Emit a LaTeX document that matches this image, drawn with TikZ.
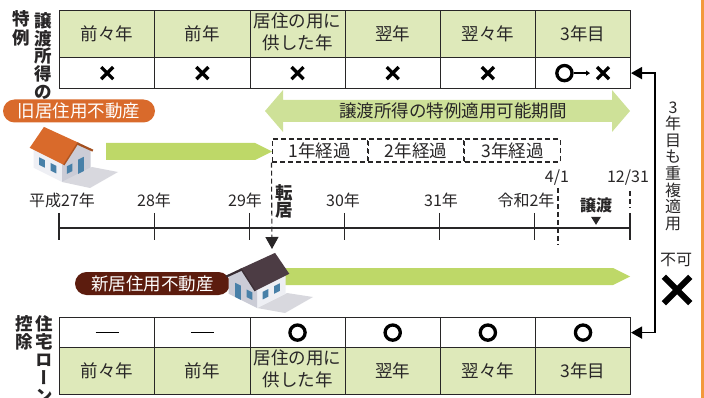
\documentclass[tikz,border=0pt]{standalone}
\usepackage{fontspec}
\setmainfont{Noto Sans CJK JP}
\newfontfamily\tate[RawFeature=+vert]{Noto Sans CJK JP}
\usetikzlibrary{matrix,positioning,arrows.meta}

\definecolor{moji}{RGB}{40,38,39}
\definecolor{hdr}{RGB}{222,233,186}
\definecolor{midori}{RGB}{190,216,104}
\definecolor{usumidori}{RGB}{206,225,152}
\definecolor{daidai}{RGB}{217,106,43}
\definecolor{kogecha}{RGB}{92,28,14}
\definecolor{yane}{RGB}{76,60,68}
\definecolor{obi}{RGB}{243,153,61}
\definecolor{kabe}{RGB}{238,239,244}
\definecolor{kabekage}{RGB}{203,204,214}
\definecolor{mado}{RGB}{72,128,168}
\definecolor{kage}{RGB}{216,216,222}

\newcommand{\hon}{\fontsize{17.5}{21.5}\selectfont}
\newcommand{\sho}{\fontsize{16}{16.6}\selectfont}
\newcommand{\kyojunen}{\begin{tabular}{@{}c@{}}居住の用に\\供した年\end{tabular}}

\tikzset{
  cell/.style={draw=moji, line width=0.8pt, minimum width=95.17pt, anchor=center},
  hyo/.style={matrix of nodes, nodes in empty cells, anchor=north west,
    column sep=-0.8pt, row sep=-0.8pt, nodes={cell}},
  mk/.style={line width=3.3pt, draw=black},
  batsu/.pic={\draw (-6,-6) -- (6,6) (-6,6) -- (6,-6);},
  maru/.pic={\draw (0,0) circle[radius=7.6];},
  bou/.pic={\draw (-11.5,0) -- (11.5,0);},
  pill/.style={rounded corners=11.5pt, minimum height=23pt, text=white},
  keika/.style={draw=moji, line width=1.1pt, dash pattern=on 5pt off 3pt,
    minimum width=95.3pt, minimum height=23pt},
  hasen/.style={draw=moji, line width=1.1pt, dash pattern=on 5pt off 3pt},
  jiku/.style={draw=moji, line width=1.1pt},
  tatemoji/.style={align=center, font=\bfseries\fontsize{17.5}{18}\selectfont},
  % small isometric house, roof colour as argument
  ie/.pic={
    \fill[kabe] (0,0) -- (-30,-15) -- (-30,-35) -- (0,-20) -- cycle;
    \fill[kabekage] (0,0) -- (30,-15) -- (30,-35) -- (15,-40.5) -- (0,-20) -- cycle;
    \fill[mado] (-6,-9) -- (-12,-12) -- (-12,-20) -- (-6,-17) -- cycle;
    \fill[mado] (-18,-15) -- (-24,-18) -- (-24,-26) -- (-18,-23) -- cycle;
    \fill[mado] (5,-8.5) -- (11,-11.5) -- (11,-19.5) -- (5,-16.5) -- cycle;
    \fill[mado] (17,-8.5) -- (23,-11.5) -- (23,-26.5) -- (17,-23.5) -- cycle;
    \fill[#1] (2,-18) -- (-34,-36) -- (-19,-58) -- (17,-41.5) -- cycle;
    \fill[#1!75!black] (17,-41.5) -- (33,-34) -- (32,-32) -- (15.5,-39.5) -- cycle;
    \draw[#1!80!black, line width=1.4pt] (17,-41.5) -- (2,-18);
  }
}

\begin{document}
\begin{tikzpicture}[x=1pt, y=-1pt,
  every node/.style={text=moji, inner sep=0pt, font=\hon}]
\useasboundingbox (0,0) rectangle (704,398);
\fill[obi] (700.5,0) rectangle (704,398);

% upper table
\matrix (m1) [hyo, row 1/.style={nodes={fill=hdr, minimum height=47pt}},
  row 2/.style={nodes={minimum height=31pt}}] at (59,10)
{
  前々年 & 前年 & \kyojunen & 翌年 & 翌々年 & 3年目 \\
  & & & & & \\
};
\foreach \c in {1,...,5}
  \pic[mk] at (m1-2-\c) {batsu};
\pic[mk] at ([xshift=-18.6pt]m1-2-6.center) {maru};
\draw[line width=1.2pt, -{Triangle[length=4pt,width=5pt]}]
  ([xshift=-9pt]m1-2-6.center) -- ([xshift=7pt]m1-2-6.center);
\pic[mk] at ([xshift=20pt]m1-2-6.center) {batsu};

% lower table
\matrix (m2) [hyo, row 1/.style={nodes={minimum height=30pt}},
  row 2/.style={nodes={fill=hdr, minimum height=47pt}}] at (59,317)
{
  & & & & & \\
  前々年 & 前年 & \kyojunen & 翌年 & 翌々年 & 3年目 \\
};
\foreach \c in {1,2}
  \pic[line width=1.3pt] at (m2-1-\c) {bou};
\foreach \c in {3,...,6}
  \pic[mk] at (m2-1-\c) {maru};

% row titles
\node[tatemoji, font=\bfseries\fontsize{17.5}{19}\selectfont] (tokurei) at (21,28.5) {特\\例};
\node[tatemoji, font=\bfseries\fontsize{17.5}{17.6}\selectfont] (joto) at (43,56) {譲\\渡\\所\\得\\の};
\node[tatemoji, font=\bfseries\fontsize{17.5}{16.5}\selectfont] (kojo) at (24,333) {控\\除};
\node[tatemoji, font=\tate\bfseries\fontsize{17.5}{18}\selectfont] (jutaku) at (44,359) {住\\宅\\ロ\\ー\\ン};

% period of the special rule
\fill[usumidori] (265,111) -- (283,90) -- (283,100) -- (612,100) -- (612,90) -- (630,111)
  -- (612,132) -- (612,122) -- (283,122) -- (283,132) -- cycle;
\node (kikan) at (453,111) {譲渡所得の特例適用可能期間};

% old home
\node[pill, fill=daidai, minimum width=152pt] (kyu) at (79,111) {旧居住用不動産};
\fill[midori] (106,143) -- (255,143) -- (272,151.5) -- (255,160) -- (106,160) -- cycle;
\fill[kage] (62,182) -- (92,167) -- (118,172) -- (90,188) -- cycle;
\pic[scale=0.95] at (62,182) {ie=daidai};

% years after moving
\node[keika] (k1) at (319.7,150.5) {1年経過};
\node[keika, right=0pt of k1] (k2) {2年経過};
\node[keika, right=0pt of k2] (k3) {3年経過};
\coordinate (tenkyo) at (272,249);
\draw[hasen, -{Triangle[length=12pt,width=13pt]}] (k1.south west) -- (tenkyo);
\node[tatemoji, font=\bfseries\fontsize{17.5}{17}\selectfont] (ten) at (284,201.5) {転\\居};

% time line
\draw[jiku] (59,228) -- (630,228);
\foreach \i in {0,...,6}
  \draw[jiku] (59+95.17*\i,213) -- ++(0,27);
\foreach \x/\lbl [count=\i] in {62/平成27年, 154/28年, 245/29年, 343/30年, 441/31年, 526/令和2年}
  \node[font=\sho] (nen\i) at (\x,200) {\lbl};
\node[font=\sho] (shi) at (557,178) {4/1};
\node[font=\sho] (juni) at (628,178) {12/31};
\draw[hasen] ([xshift=1pt]shi.south) ++(0,2) -- ++(0,57);
\draw[hasen] ([xshift=2pt]juni.south) ++(0,5) -- ++(0,17);
\node[font=\bfseries\sho] (jouto) at (596,205) {譲渡};
\fill[moji] (jouto.south) ++(-5,4) -- ++(10,0) -- ++(-5,8) -- cycle;

% new home
\fill[midori] (280,268) -- (613,268) -- (630,276.5) -- (613,285) -- (280,285) -- cycle;
\node[pill, fill=kogecha, minimum width=155pt] (shin) at (152.5,283.5) {新居住用不動産};
\fill[kage] (257,308) -- (287,293) -- (313,297) -- (285,313) -- cycle;
\pic[xscale=-0.95, yscale=0.95] at (257,308) {ie=yane};

% no double use
\draw[line width=1.6pt, {Triangle[length=11pt,width=12pt]}-{Triangle[length=11pt,width=12pt]}]
  (m1-2-6.east) -- ++(24,0) |- (m2-1-6.east);
\node[align=center, font=\sho] (chofuku) at (673,166) {3\\年\\目\\も\\重\\複\\適\\用};
\node[font=\sho] (fuka) at (676,260) {不可};
\pic[line width=6pt, scale=2.2] at (677,290) {batsu};
\end{tikzpicture}
\end{document}
